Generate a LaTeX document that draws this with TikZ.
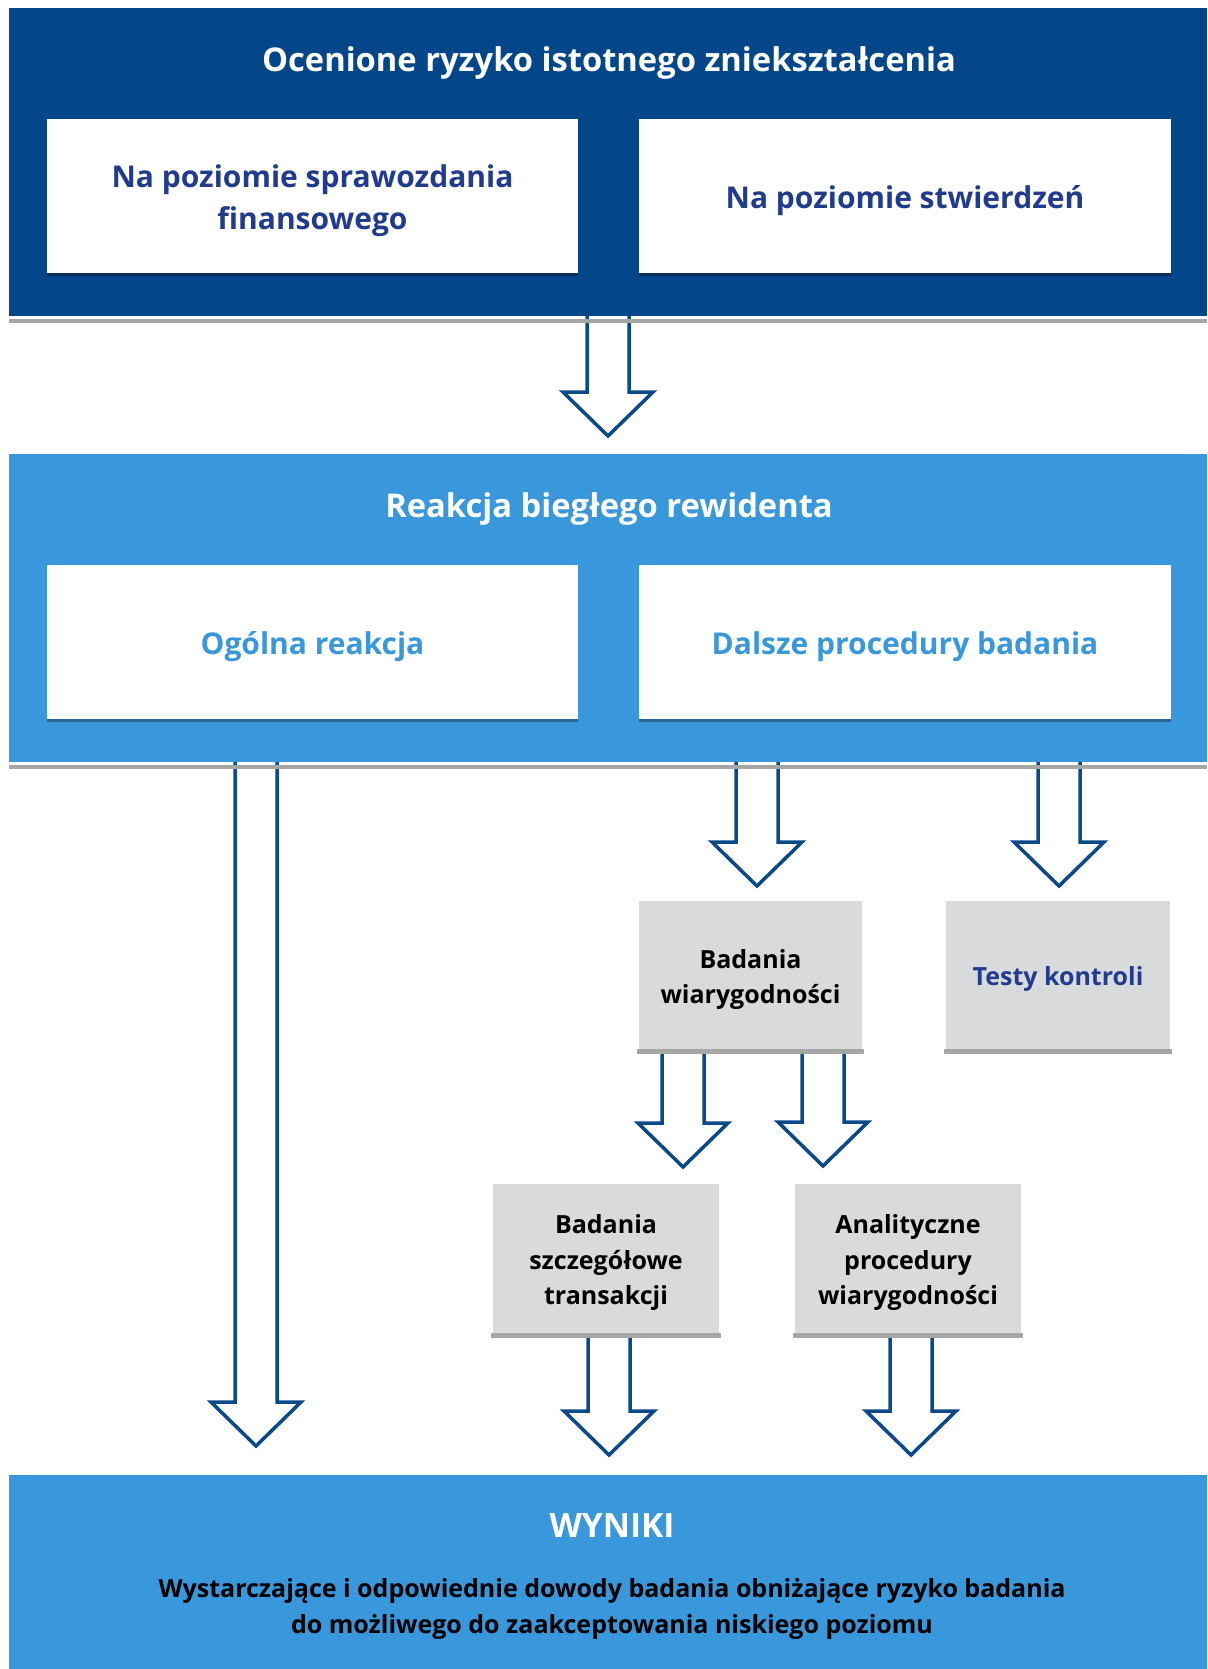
\documentclass[tikz,border=0pt]{standalone}
\usepackage{fontspec}
\setmainfont{Open Sans}
\definecolor{acNavy}{HTML}{03478A}
\definecolor{acSky}{HTML}{3898DB}
\definecolor{acInk}{HTML}{213B8F}
\definecolor{acArrow}{HTML}{0B4A8A}
\definecolor{acGrey}{HTML}{D9DADC}
\definecolor{acRule}{HTML}{A6A6A6}
\definecolor{acDeep}{HTML}{0B2F5B}
\definecolor{acMid}{HTML}{2A6796}
\usetikzlibrary{calc,positioning}

% taller first line, so the text sits a little lower in its box
\newcommand\boxstrut{\rule{0pt}{1.1em}}

\tikzset{
  panel/.style={inner sep=0pt, minimum width=1198pt},
  whitebox/.style={fill=white, inner sep=0pt, minimum width=531pt, minimum height=154pt, align=center,
    font=\fontsize{30}{42}\selectfont\bfseries},
  greybox/.style={fill=acGrey, inner sep=0pt, minimum width=224pt, minimum height=148pt, align=center,
    font=\fontsize{25}{35.5}\selectfont\bfseries, text=black},
  arrowline/.style={draw=acArrow, line width=3.5pt, fill=white, miter limit=20},
  arrowshade/.style={draw=acRule, line width=3pt},
  panelrule/.style={draw=acRule, line width=3.5pt},
}

% block arrow from a start point straight down to a tip
\newcommand\blockarrow[2]{%
  \draw[arrowshade, shift={(2,3)}] ($(#2)+(-45,-44)$) -- (#2) -- ++(45,-44);
  \draw[arrowline] ($(#1)+(-21,0)$) -- ($(#2)+(-21,-44)$) -- ++(-24,0) -- (#2)
    -- ++(45,-44) -- ++(-24,0) -- ($(#1)+(21,0)$);
}

\begin{document}
\begin{tikzpicture}[x=1pt, y=-1pt]
  \useasboundingbox (0,0) rectangle (1207,1669);

  % assessed risk
  \node[panel, fill=acNavy, minimum height=308pt] (risk) at (608,162) {};
  \node[font=\fontsize{32.7}{38}\selectfont\bfseries, text=white] (riskhead) at (609,63) {Ocenione ryzyko istotnego zniekształcenia};
  \node[whitebox, text=acInk] (fslevel) at (312.5,196) {\boxstrut Na poziomie sprawozdania\\finansowego};
  \node[whitebox, text=acInk, minimum width=532pt] (aslevel) at (905,196) {\boxstrut Na poziomie stwierdzeń};

  % auditor's response
  \node[panel, fill=acSky, minimum height=308pt] (response) at (608,608) {};
  \node[font=\fontsize{32.7}{38}\selectfont\bfseries, text=white] (responsehead) at (609,509) {Reakcja biegłego rewidenta};
  \node[whitebox, text=acSky] (overall) at (312.5,642) {\boxstrut Ogólna reakcja};
  \node[whitebox, text=acSky, minimum width=532pt] (further) at (905,642) {\boxstrut Dalsze procedury badania};

  % further procedures
  \node[greybox, minimum width=223pt] (substantive) at (750.5,975) {\boxstrut Badania\\wiarygodności};
  \node[greybox, text=acInk] (controls) at (1058,975) {\boxstrut Testy kontroli};
  \node[greybox, minimum width=226pt, minimum height=149pt] (details) at (606,1258.5) {\boxstrut Badania\\szczegółowe\\transakcji};
  \node[greybox, minimum width=226pt, minimum height=149pt] (analytics) at (908,1258.5) {\boxstrut Analityczne\\procedury\\wiarygodności};

  % results
  \node[panel, fill=acSky, minimum height=194pt] (results) at (608,1572) {};
  \node[font=\fontsize{33.5}{38}\selectfont\bfseries, text=white] (resultshead) at (612,1526) {WYNIKI};
  \node[font=\fontsize{25}{36}\selectfont\bfseries, text=black, align=center] (resultsbody) at (612,1609)
    {Wystarczające i odpowiednie dowody badania obniżające ryzyko badania\\do możliwego do zaakceptowania niskiego poziomu};

  % arrow tips
  \coordinate (tipRisk) at (608,436);
  \coordinate (tipOverall) at (256,1446);
  \coordinate (tipSubst) at (757,886);
  \coordinate (tipCtrl) at (1059,886);
  \coordinate (tipDetail) at (683,1167);
  \coordinate (tipAnal) at (823,1166);
  \coordinate (tipResA) at (609,1455);
  \coordinate (tipResB) at (911,1455);

  \blockarrow{risk.south -| tipRisk}{tipRisk}
  \blockarrow{response.south -| tipOverall}{tipOverall}
  \blockarrow{response.south -| tipSubst}{tipSubst}
  \blockarrow{response.south -| tipCtrl}{tipCtrl}
  \blockarrow{substantive.south -| tipDetail}{tipDetail}
  \blockarrow{substantive.south -| tipAnal}{tipAnal}
  \blockarrow{details.south -| tipResA}{tipResA}
  \blockarrow{analytics.south -| tipResB}{tipResB}

  % rules and shadows
  \draw[panelrule] ([yshift=-5pt]risk.south west) -- ([yshift=-5pt]risk.south east);
  \draw[panelrule] ([yshift=-5pt]response.south west) -- ([yshift=-5pt]response.south east);
  \foreach \b in {fslevel,aslevel}
    \draw[acDeep, line width=3pt] ([yshift=-1.5pt]\b.south west) -- ([yshift=-1.5pt]\b.south east);
  \foreach \b in {overall,further}
    \draw[acMid, line width=3pt] ([yshift=-1.5pt]\b.south west) -- ([yshift=-1.5pt]\b.south east);
  \foreach \b in {substantive,controls,details,analytics}
    \draw[acRule, line width=5pt] ([xshift=-2pt,yshift=-2.5pt]\b.south west) -- ([xshift=2pt,yshift=-2.5pt]\b.south east);
\end{tikzpicture}
\end{document}
